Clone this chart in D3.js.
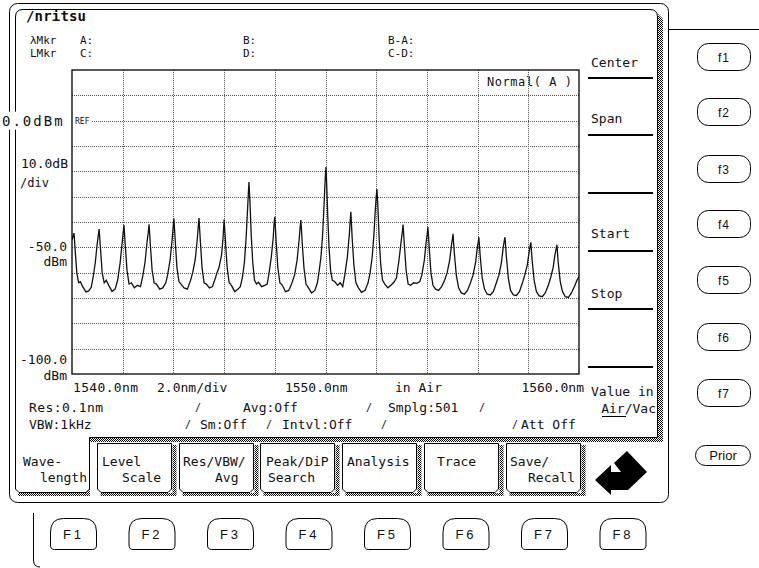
<!DOCTYPE html>
<html>
<head>
<meta charset="utf-8">
<script src="https://cdn.jsdelivr.net/npm/d3@7/dist/d3.min.js"></script>
<style>
body { margin: 0; background: #fff; }
svg { display: block; }
text { font-family: "DejaVu Sans Mono", monospace; fill: #111; }
.sans { font-family: "Liberation Sans", Arial, sans-serif; }
</style>
</head>
<body>
<svg id="chart" width="759" height="568"></svg>
<script>
// grid lines (2.0nm/div, 10.0dB/div)
var xGridNm = [1540, 1542, 1544, 1546, 1548, 1550, 1552, 1554, 1556, 1558, 1560];
var yGridDbm = [20, 10, 0, -10, -20, -30, -40, -50, -60, -70, -80, -90, -100];

var xTickValues = [1540, 1550, 1560];
var xTickLabels = ['1540.0nm', '1550.0nm', '1560.0nm'];
var yTickValues = [0, -50, -100];
var yTickLabels = ['0.0dBm', '-50.0', '-100.0'];

// spectrum trace, [nm, dBm]
var trace = [
	[1540.00,-47],[1540.08,-44.4],[1540.13,-52],[1540.19,-60],[1540.26,-64],[1540.33,-63.6],[1540.42,-65.5],[1540.55,-67.6],[1540.66,-67.2],[1540.76,-65.8],
	[1540.83,-62],[1540.92,-56],[1540.99,-49],[1541.04,-45],[1541.07,-42.8],[1541.12,-50],[1541.19,-60],[1541.27,-64],[1541.35,-63],[1541.45,-65],[1541.58,-67.4],[1541.70,-66.5],
	[1541.80,-63],[1541.90,-56],[1541.98,-48],[1542.02,-44],[1542.05,-41.2],[1542.10,-49],[1542.17,-59],[1542.25,-64.5],[1542.34,-64],[1542.46,-66],[1542.58,-65],[1542.70,-65.5],
	[1542.78,-62],[1542.88,-56],[1542.96,-48],[1543.01,-44],[1543.04,-40.9],[1543.09,-49],[1543.16,-59],[1543.24,-64],[1543.33,-64.5],[1543.46,-66.5],[1543.58,-66],[1543.70,-64],
	[1543.77,-61],[1543.87,-55],[1543.95,-47],[1543.99,-42],[1544.02,-38.6],[1544.07,-47],[1544.14,-58],[1544.22,-63.5],[1544.30,-64.5],[1544.42,-66],[1544.55,-66.5],[1544.68,-63],
	[1544.76,-60],[1544.86,-55],[1544.94,-47],[1544.98,-42],[1545.01,-38.4],[1545.06,-47],[1545.13,-58],[1545.21,-64],[1545.30,-64.5],[1545.42,-66],[1545.54,-65.5],[1545.66,-62],[1545.72,-60],
	[1545.80,-58],[1545.90,-53],[1545.96,-46],[1546.00,-39],[1546.05,-47],[1546.12,-58],[1546.20,-64],[1546.29,-65],[1546.42,-67.5],[1546.55,-66.5],[1546.64,-65.5],
	[1546.72,-62],[1546.80,-56],[1546.87,-46],[1546.92,-36],[1546.96,-28],[1546.98,-24.2],[1547.02,-32],[1547.07,-45],[1547.13,-56],[1547.20,-63],[1547.28,-64.5],[1547.36,-63.8],[1547.48,-65.5],[1547.60,-65],[1547.70,-64.5],
	[1547.76,-61],[1547.86,-54],[1547.94,-46],[1547.97,-41],[1548.00,-38],[1548.05,-47],[1548.12,-58],[1548.20,-64],[1548.30,-65],[1548.42,-67.5],[1548.55,-67],[1548.68,-64],
	[1548.78,-61],[1548.88,-55],[1548.96,-47],[1549.00,-42],[1549.03,-39.2],[1549.08,-48],[1549.15,-58],[1549.23,-64.5],[1549.33,-66],[1549.45,-68],[1549.58,-67],[1549.68,-64],
	[1549.74,-60],[1549.82,-54],[1549.88,-46],[1549.93,-36],[1549.97,-27],[1550.00,-21],[1550.02,-18.3],[1550.05,-26],[1550.09,-38],[1550.14,-50],[1550.20,-59],[1550.27,-63],[1550.36,-63.5],[1550.48,-65],[1550.58,-64],[1550.68,-65.5],
	[1550.76,-61],[1550.86,-54],[1550.94,-45],[1550.97,-40],[1551.00,-36],[1551.05,-46],[1551.12,-57],[1551.20,-64],[1551.30,-66],[1551.42,-67.8],[1551.56,-67],[1551.68,-64],
	[1551.76,-60],[1551.84,-54],[1551.91,-45],[1551.96,-36],[1552.00,-30],[1552.03,-27],[1552.07,-35],[1552.12,-47],[1552.18,-57],[1552.25,-63],[1552.34,-64.5],[1552.46,-66],[1552.58,-65],[1552.70,-63.8],
	[1552.80,-62],[1552.90,-55],[1552.98,-48],[1553.03,-44],[1553.06,-41],[1553.11,-49],[1553.18,-59],[1553.26,-64.5],[1553.36,-65],[1553.48,-64],[1553.60,-64.2],[1553.72,-63.5],
	[1553.80,-61],[1553.90,-55],[1553.97,-48],[1554.01,-45],[1554.04,-42],[1554.09,-50],[1554.16,-60],[1554.24,-65],[1554.34,-66.5],[1554.46,-67],[1554.58,-65.5],[1554.70,-63],
	[1554.80,-60],[1554.90,-55],[1554.97,-49],[1555.01,-46.5],[1555.03,-44.7],[1555.08,-52],[1555.16,-61],[1555.25,-66],[1555.36,-68],[1555.48,-68.5],[1555.60,-67],[1555.72,-64],
	[1555.82,-61],[1555.92,-56],[1555.99,-50],[1556.03,-47.5],[1556.05,-46],[1556.10,-53],[1556.18,-62],[1556.27,-66.5],[1556.38,-68.5],[1556.50,-68.8],[1556.62,-67.5],[1556.74,-64],
	[1556.84,-61],[1556.94,-56],[1557.01,-50],[1557.05,-47.5],[1557.08,-46],[1557.13,-53],[1557.21,-62],[1557.30,-67],[1557.41,-68.8],[1557.53,-69],[1557.65,-67.5],[1557.77,-64],
	[1557.86,-61],[1557.96,-57],[1558.03,-52],[1558.07,-49.5],[1558.10,-48],[1558.15,-55],[1558.23,-63],[1558.32,-67.5],[1558.43,-69.2],[1558.55,-69.5],[1558.67,-68],[1558.79,-65],
	[1558.88,-62],[1558.98,-58],[1559.05,-53],[1559.10,-50.5],[1559.13,-49],[1559.18,-56],[1559.26,-63.5],[1559.35,-67.5],[1559.46,-69.5],[1559.58,-69.8],[1559.70,-68],[1559.82,-65.5],[1559.92,-63],[1560.00,-61.5]
];

var softKeys = ['Center', 'Span', '', 'Start', 'Stop', '', ''];
var tabLabels = [['Wave-', 'length'], ['Level', 'Scale'], ['Res/VBW/', 'Avg'], ['Peak/DiP', 'Search'], ['Analysis'], ['Trace'], ['Save/', 'Recall']];
var sideKeys = ['f1', 'f2', 'f3', 'f4', 'f5', 'f6', 'f7'];
var bottomKeys = ['F1', 'F2', 'F3', 'F4', 'F5', 'F6', 'F7', 'F8'];

var svg = d3.select('#chart');

// checker pattern for the grey bevels
var defs = svg.append('defs');
var pat = defs.append('pattern')
	.attr('id', 'hatch').attr('width', 2).attr('height', 2)
	.attr('patternUnits', 'userSpaceOnUse');
pat.append('rect').attr('width', 2).attr('height', 2).attr('fill', '#fff');
pat.append('rect').attr('width', 1).attr('height', 1).attr('fill', '#000');
pat.append('rect').attr('x', 1).attr('y', 1).attr('width', 1).attr('height', 1).attr('fill', '#000');
defs.append('clipPath').attr('id', 'plotclip')
	.append('rect').attr('x', 72).attr('y', 70).attr('width', 507).attr('height', 304);

var txt = function (g, s, x, y, opts) {
	opts = opts || {};
	var t = g.append('text').attr('x', x).attr('y', y)
		.attr('font-size', opts.size || 13)
		.attr('text-anchor', opts.anchor || 'start')
		.attr('font-weight', opts.weight || null)
		.attr('class', opts.cls || null)
		.style('letter-spacing', opts.ls || null)
		.text(s);
	if (opts.len) {
		t.attr('textLength', opts.len).attr('lengthAdjust', 'spacing');
	}
	return t;
};

// ---- panel frames
svg.append('rect').attr('x', 9.5).attr('y', 3.5).attr('width', 659).attr('height', 499)
	.attr('rx', 8).attr('fill', '#fff').attr('stroke', '#000');
svg.append('line').attr('x1', 669).attr('x2', 759).attr('y1', 29.5).attr('y2', 29.5).attr('stroke', '#000');

// hatched bevels of the display
svg.append('path').attr('d', 'M658,14 L663,19 V442 H90 V496 H18 V493 H86 V438 H658 Z').attr('fill', 'url(#hatch)');
// display outline (continues into the selected first tab)
svg.append('path')
	.attr('d', 'M15.5,489 V17 Q15.5,9.5 23,9.5 H650 Q657.5,9.5 657.5,17 V437.5 H89.5 V489 L86,492.5 H19 Z')
	.attr('fill', '#fff').attr('stroke', '#000');

// ---- tabs
var tabX = function (i) { return 15 + i * 81.8; };
var tabText = [[23, 40], [102, 122], [183, 215], [266, 268], [347], [437], [510, 528]];
tabLabels.forEach(function (lab, i) {
	var g = svg.append('g');
	if (i > 0) {
		var L = Math.round(tabX(i)) + 0.5, R = L + 74;
		g.append('path').attr('d', 'M' + (R + 1) + ',445 H' + (R + 5) + ' V496 H' + (L + 3) + ' V493 H' + (R + 1) + ' Z')
			.attr('fill', 'url(#hatch)');
		g.append('path').attr('d', 'M' + L + ',443.5 V489 L' + (L + 3.5) + ',492.5 H' + (R - 3.5) + ' L' + R + ',489 V443.5 Z')
			.attr('fill', '#fff').attr('stroke', '#000');
	}
	txt(g, lab[0], tabText[i][0], 466);
	if (lab[1]) {
		txt(g, lab[1], tabText[i][1], 482);
	}
});

// enter arrow
svg.append('path')
	.attr('d', 'M595,480 L611,465 L611,472 L621,472 L614,463 L627,451 L647,472 L628,490 L611,490 L611,495 Z')
	.attr('fill', '#000');

// ---- soft keys on the right of the display
var skY = [78, 135, 193, 251, 309, 367];
skY.forEach(function (y) {
	svg.append('line').attr('x1', 588).attr('x2', 653).attr('y1', y).attr('y2', y)
		.attr('stroke', '#000').attr('stroke-width', 2);
});
var skText = [67, 123, 0, 238, 298];
softKeys.forEach(function (s, i) {
	if (s) {
		txt(svg, s, 591, skText[i]);
	}
});
txt(svg, 'Value in', 591, 396);
txt(svg, 'Air/Vac', 656, 413, { anchor: 'end' });
svg.append('line').attr('x1', 602).attr('x2', 626).attr('y1', 416.5).attr('y2', 416.5).attr('stroke', '#000');

// ---- header
txt(svg, '/nritsu', 26, 21, { size: 14, weight: 'bold', len: 60 });
var hdr = [['\u03bbMkr', 30, 44], ['LMkr', 30, 57], ['A:', 80, 44], ['C:', 80, 57],
	['B:', 243, 44], ['D:', 243, 57], ['B-A:', 388, 44], ['C-D:', 388, 57]];
hdr.forEach(function (h) {
	txt(svg, h[0], h[1], h[2], { size: 11 });
});

// ---- plot
var x = d3.scaleLinear().domain([1540, 1560]).range([72, 579]);
var y = d3.scaleLinear().domain([-100, 20]).range([374, 70]);
var plot = svg.append('g');

txt(plot, 'Normal( A )', 487, 86, { size: 12, len: 85 });

plot.selectAll('line.vg').data(xGridNm.slice(1, -1)).enter().append('line')
	.attr('x1', function (d) { return Math.round(x(d)) + 0.5; })
	.attr('x2', function (d) { return Math.round(x(d)) + 0.5; })
	.attr('y1', 70).attr('y2', 374)
	.attr('stroke', '#555').attr('stroke-dasharray', '1,1');
plot.selectAll('line.hg').data(yGridDbm.slice(1, -1)).enter().append('line')
	.attr('y1', function (d) { return Math.round(y(d)) + 0.5; })
	.attr('y2', function (d) { return Math.round(y(d)) + 0.5; })
	.attr('x1', function (d) { return d === 0 ? 92 : 72; }).attr('x2', 579)
	.attr('stroke', '#555').attr('stroke-dasharray', '1,1');
txt(plot, 'REF', 75, y(0) + 3, { size: 8 });

plot.append('path').datum(trace)
	.attr('clip-path', 'url(#plotclip)')
	.attr('fill', 'none').attr('stroke', '#111').attr('stroke-width', 1.3)
	.attr('d', d3.line().x(function (d) { return x(d[0]); }).y(function (d) { return y(d[1]); }));

plot.append('rect').attr('x', 72).attr('y', 70).attr('width', 507).attr('height', 304)
	.attr('fill', 'none').attr('stroke', '#000').attr('stroke-width', 1.3);

// y labels (the 0 dBm one sits over the panel borders)
plot.append('rect').attr('x', 0).attr('y', y(yTickValues[0]) - 9).attr('width', 70).attr('height', 18).attr('fill', '#fff');
txt(plot, yTickLabels[0], 2, y(yTickValues[0]) + 5, { size: 14, ls: '2px' });
txt(plot, yTickLabels[1], 67, y(yTickValues[1]) + 4, { anchor: 'end' });
txt(plot, 'dBm', 67, y(yTickValues[1]) + 19, { anchor: 'end' });
txt(plot, yTickLabels[2], 67, y(yTickValues[2]) - 10, { anchor: 'end' });
txt(plot, 'dBm', 67, y(yTickValues[2]) + 6, { anchor: 'end' });
txt(plot, '10.0dB', 68, 168, { anchor: 'end' });
txt(plot, '/div', 20, 187, { size: 12 });

// x labels
txt(plot, xTickLabels[0], x(xTickValues[0]) + 1, 392, { len: 65 });
txt(plot, '2.0nm/div', 157, 392);
txt(plot, xTickLabels[1], x(xTickValues[1]) + 22, 392, { anchor: 'end' });
txt(plot, 'in Air', 395, 392);
txt(plot, xTickLabels[2], x(xTickValues[2]) + 5, 392, { anchor: 'end' });

// status lines
txt(svg, 'Res:0.1nm', 29, 412, { len: 74 });
txt(svg, 'Avg:Off', 243, 412);
txt(svg, 'Smplg:501', 388, 412);
txt(svg, 'VBW:1kHz', 29, 429);
txt(svg, 'Sm:Off', 200, 429);
txt(svg, 'Intvl:Off', 282, 429);
txt(svg, 'Att Off', 521, 429);
[[195, 411], [366, 411], [479, 411], [185, 428], [266, 428], [381, 428], [512, 428]].forEach(function (p) {
	txt(svg, '/', p[0], p[1], { size: 10 });
});

// ---- side keys
var sideY = [57, 112, 169, 224, 280, 337, 393];
sideKeys.forEach(function (k, i) {
	svg.append('rect').attr('x', 697.5).attr('y', sideY[i] - 13.5).attr('width', 53).attr('height', 27)
		.attr('rx', 11).attr('fill', '#fff').attr('stroke', '#000');
	txt(svg, k, 724, sideY[i] + 5, { anchor: 'middle', cls: 'sans', size: 12, ls: '1px' });
});
svg.append('rect').attr('x', 695.5).attr('y', 445.5).attr('width', 55).attr('height', 20)
	.attr('rx', 10).attr('fill', '#fff').attr('stroke', '#000');
txt(svg, 'Prior', 723, 460, { anchor: 'middle', cls: 'sans', size: 13 });

// ---- bottom keys
svg.append('path').attr('d', 'M33.5,513 V560 Q33.5,567 40,567').attr('fill', 'none').attr('stroke', '#000');
bottomKeys.forEach(function (k, i) {
	var c = 73.5 + i * 78.5;
	svg.append('path')
		.attr('d', 'M' + (c - 23) + ',545 V532 Q' + (c - 23) + ',518.5 ' + (c - 10) + ',518.5 H' + (c + 10) +
			' Q' + (c + 23) + ',518.5 ' + (c + 23) + ',532 V545 Q' + (c + 23) + ',549.5 ' + (c + 19) + ',549.5 H' + (c - 19) +
			' Q' + (c - 23) + ',549.5 ' + (c - 23) + ',545 Z')
		.attr('fill', '#fff').attr('stroke', '#000');
	txt(svg, k, c, 539, { anchor: 'middle', cls: 'sans', size: 13, ls: '3px' });
});
</script>
</body>
</html>
